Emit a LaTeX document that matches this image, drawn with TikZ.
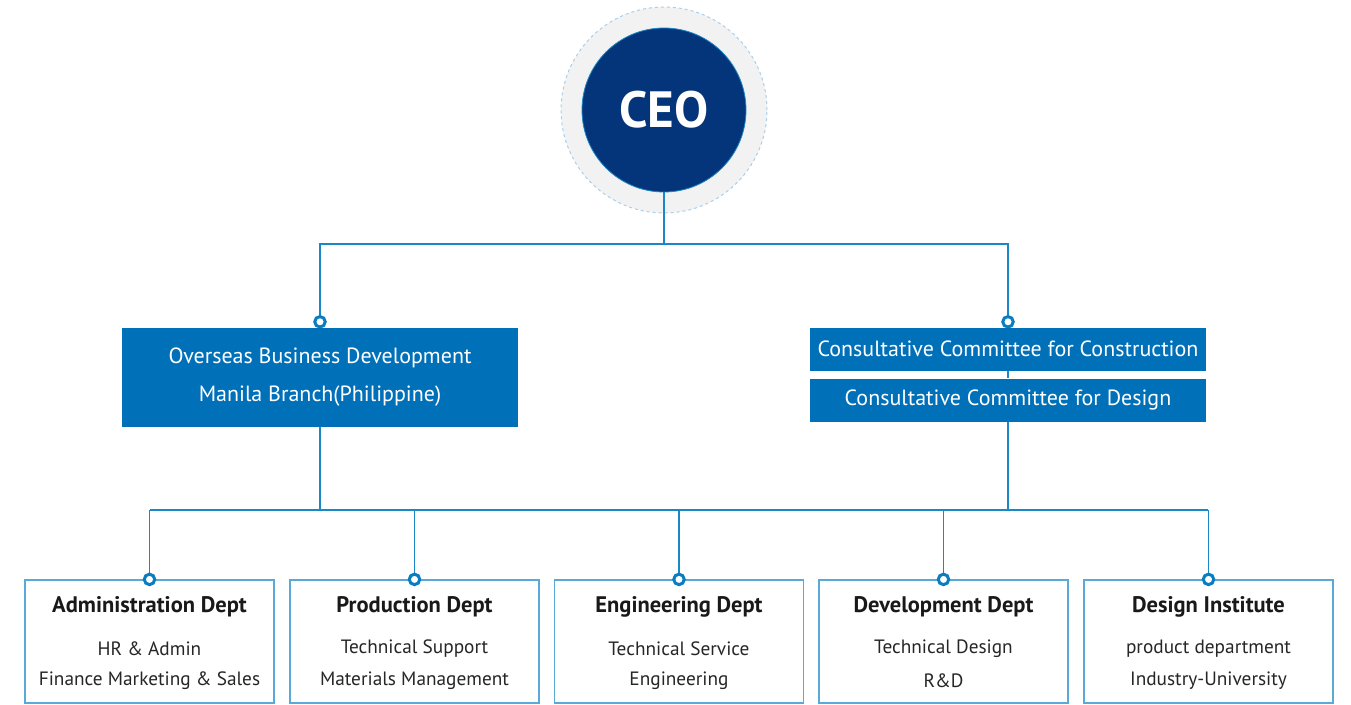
\documentclass[tikz,border=0pt]{standalone}
\usepackage{fontspec}
\setmainfont{PT Sans}
\definecolor{ceoblue}{HTML}{04357A}
\definecolor{boxblue}{HTML}{0070B9}
\definecolor{linec}{HTML}{1A87C6}
\definecolor{dotc}{HTML}{0A7CC1}
\definecolor{ringgray}{HTML}{F2F2F2}
\definecolor{ringdash}{HTML}{A9CFEC}
\definecolor{boxline}{HTML}{5AAAD9}
\tikzset{
  conn/.style={draw=linec, line width=1.3pt},
  dot/.style={circle, draw=dotc, fill=white, line width=3pt, minimum size=10.5pt, inner sep=0pt},
  bluebox/.style={fill=boxblue, text=white, minimum width=396pt, inner sep=0pt, align=center},
  deptbox/.style={draw=boxline, line width=1.2pt, fill=white, minimum width=249pt, minimum height=123pt, inner sep=0pt},
  depttitle/.style={font=\fontsize{22.5}{26}\selectfont\bfseries, text=black!90},
  deptline/.style={font=\fontsize{19.3}{23}\selectfont, text=black!85}
}
\begin{document}
\begin{tikzpicture}[x=1pt,y=-1pt]
\useasboundingbox (0,0) rectangle (1351,704);
% CEO
\node[circle, fill=ringgray, draw=ringdash, dashed, line width=1pt, minimum size=206pt, inner sep=0pt] (ring) at (664,110) {};
\node[circle, fill=ceoblue, draw=linec, line width=0.8pt, minimum size=164pt, inner sep=0pt, text=white, font=\fontsize{51}{55}\selectfont\bfseries] (ceo) at (664,110) {CEO};
% second level
\node[bluebox, minimum height=99pt, font=\fontsize{22}{38}\selectfont] (obd) at (320,377) {Overseas Business Development\\[-0.5pt]Manila Branch(Philippine)};
\node[bluebox, minimum height=43pt, font=\fontsize{22}{25}\selectfont] (ccc) at (1008,349) {Consultative Committee for Construction};
\node[bluebox, minimum height=43pt, font=\fontsize{22}{25}\selectfont] (ccd) at (1008,400) {Consultative Committee for Design};
\coordinate (hub) at (664,244);
\coordinate (lbus) at (150,510);
\coordinate (rbus) at (1208,510);
% dept boxes
\foreach \n/\x/\t/\a/\b in {
  adm/149.5/Administration Dept/HR \& Admin/Finance Marketing \& Sales,
  pro/414.5/Production Dept/Technical Support/Materials Management,
  eng/679/Engineering Dept/Technical Service/Engineering,
  dev/943.5/Development Dept/Technical Design/R\&D,
  des/1208.5/Design Institute/product department/Industry-University}{
  \node[deptbox] (\n) at (\x,641.5) {};
  \node[depttitle] (\n-t) at (\x,607) {\t};
  \node[deptline] (\n-a) at (\x,648.5) {\a};
  \node[deptline] (\n-b) at (\x,680.5) {\b};
}
% connectors
\draw[conn] (ceo.south) -- (hub);
\draw[conn] (hub) -| (obd.north);
\draw[conn] (hub) -| (ccc.north);
\draw[conn] (ccc.south) -- (ccd.north);
\draw[conn] (obd.south) |- (lbus);
\draw[conn] (ccd.south) |- (rbus);
\draw[conn] (lbus) -- (rbus);
\foreach \n in {adm,pro,eng,dev,des}{
  \draw[conn] (\n.north |- lbus) -- (\n.north);
}
% dots
\foreach \n in {obd,ccc}{
  \node[dot] at ([yshift=5.5pt]\n.north) {};
}
\foreach \n in {adm,pro,eng,dev,des}{
  \node[dot] at (\n.north) {};
}
\end{tikzpicture}
\end{document}
